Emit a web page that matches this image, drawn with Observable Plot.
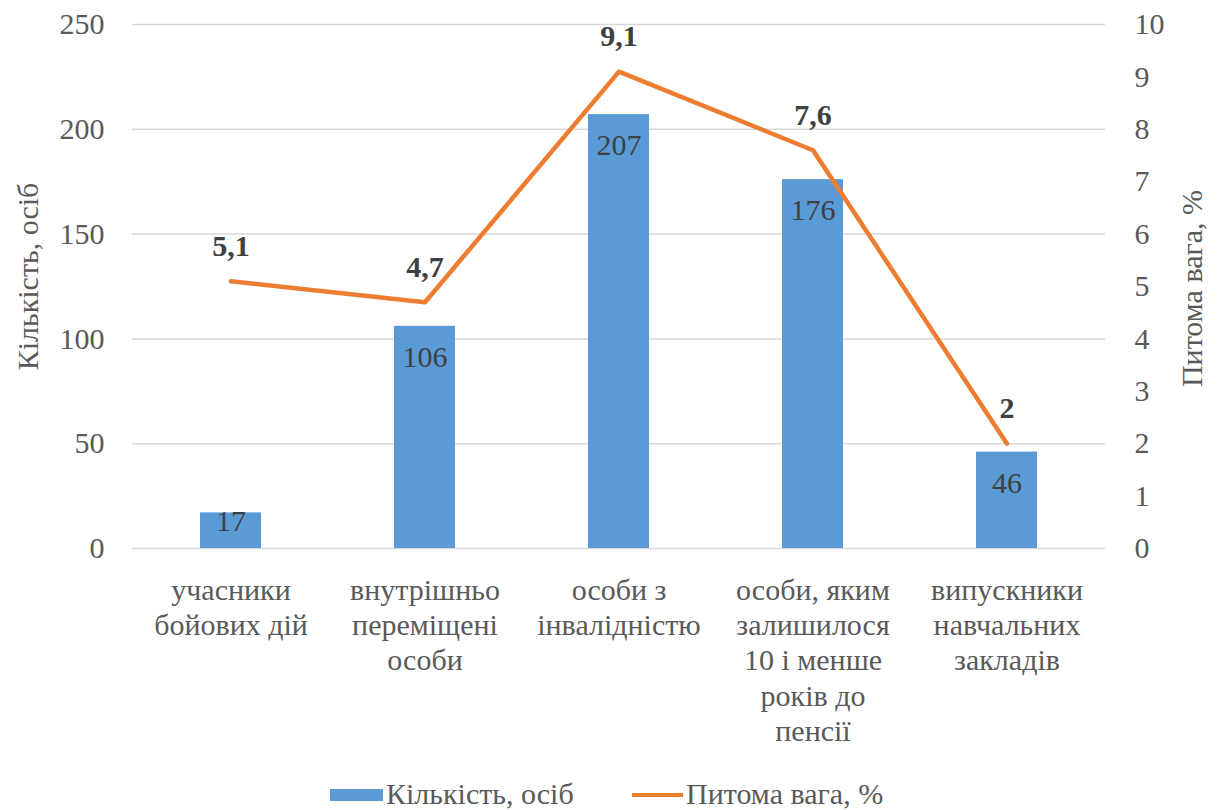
<!DOCTYPE html>
<html>
<head>
<meta charset="utf-8">
<script src="https://cdn.jsdelivr.net/npm/d3@7"></script>
<script src="https://cdn.jsdelivr.net/npm/@observablehq/plot@0.6"></script>
<style>
  body { margin: 0; background: #fff; font-family: 'Liberation Serif', serif; }
  #wrap { position: relative; width: 1218px; height: 810px; overflow: hidden; }
  #legend { position: absolute; left: 0; top: 770px; width: 1218px; height: 40px; color: #595959; font-size: 30px; }
  #legend .sw { position: absolute; }
  #legend .lb { position: absolute; top: 7px; line-height: 34px; white-space: nowrap; }
</style>
</head>
<body>
<div id="wrap">
  <div id="chart"></div>
  <div id="legend"></div>
</div>
<script>
// ---- data ----
const categories = [
  "учасники бойових дій",
  "внутрішньо переміщені особи",
  "особи з інвалідністю",
  "особи, яким залишилося 10 і менше років до пенсії",
  "випускники навчальних закладів"
];
const xLabels = [
  "учасники\nбойових дій",
  "внутрішньо\nпереміщені\nособи",
  "особи з\nінвалідністю",
  "особи, яким\nзалишилося\n10 і менше\nроків до\nпенсії",
  "випускники\nнавчальних\nзакладів"
];
const counts = [17, 106, 207, 176, 46];
const shares = [5.1, 4.7, 9.1, 7.6, 2];
const leftTicks = [0, 50, 100, 150, 200, 250];
const rightTicks = [0, 1, 2, 3, 4, 5, 6, 7, 8, 9, 10];
const seriesNames = ["Кількість, осіб", "Питома вага, %"];
const leftTitle = "Кількість, осіб";
const rightTitle = "Питома вага, %";

// ---- build ----
const FONT = "Liberation Serif";
const leftMax = leftTicks[leftTicks.length - 1];
const rightMax = rightTicks[rightTicks.length - 1];
const ratio = leftMax / rightMax;
const rows = categories.map((c, i) => ({category: c, count: counts[i], share: shares[i]}));
const fmt = v => String(v).replace(".", ",");
const BLUE = "#5B9BD5", ORANGE = "#ED7D31", TXT = "#595959", DARK = "#404040";

const chart = Plot.plot({
  width: 1218,
  height: 770,
  marginLeft: 132,
  marginRight: 113,
  marginTop: 24,
  marginBottom: 222,
  style: {fontFamily: FONT, fontSize: "30px", color: TXT, background: "#fff"},
  x: {type: "band", domain: categories, paddingInner: 0.687, paddingOuter: 0.3435, axis: null},
  y: {domain: [0, leftMax], axis: null},
  marks: [
    Plot.gridY(leftTicks, {stroke: "#d9d9d9", strokeOpacity: 1, strokeWidth: 1.5}),
    Plot.barY(rows, {x: "category", y: "count", fill: BLUE}),
    Plot.line(rows, {x: "category", y: d => d.share * ratio, stroke: ORANGE, strokeWidth: 4.5, strokeLinejoin: "round", strokeLinecap: "round"}),
    Plot.text(rows.filter(d => d.count >= 40), {x: "category", y: "count", text: d => String(d.count), dy: 31, fill: DARK, fontSize: 30, fontFamily: FONT}),
    Plot.text(rows.filter(d => d.count < 40), {x: "category", y: "count", text: d => String(d.count), dy: 9, fill: DARK, fontSize: 30, fontFamily: FONT}),
    Plot.text(rows, {x: "category", y: d => d.share * ratio, text: d => fmt(d.share), dy: -35, fill: DARK, fontSize: 30, fontWeight: "bold", fontFamily: FONT}),
    Plot.axisY(leftTicks, {anchor: "left", tickSize: 0, tickPadding: 28, label: null, fontSize: 30, fontFamily: FONT, fill: TXT}),
    Plot.axisY(rightTicks.map(t => t * ratio), {anchor: "right", tickSize: 0, tickPadding: 29, label: null, fontSize: 30, fontFamily: FONT, fill: TXT, tickFormat: d => String(Math.round(d / ratio))}),
    Plot.axisX({anchor: "bottom", tickSize: 0, tickPadding: 26, label: null, fontSize: 30, fontFamily: FONT, fill: TXT, lineHeight: 1.18, tickFormat: d => xLabels[categories.indexOf(d)]}),
    Plot.text([leftTitle], {text: d => d, frameAnchor: "left", textAnchor: "middle", rotate: -90, dx: -104, dy: -10, fontSize: 30, fontFamily: FONT, fill: TXT}),
    Plot.text([rightTitle], {text: d => d, frameAnchor: "right", textAnchor: "middle", rotate: -90, dx: 87, dy: 2, fontSize: 30, fontFamily: FONT, fill: TXT})
  ]
});
document.getElementById("chart").appendChild(chart);

// ---- legend (HTML, below the SVG) ----
const legend = document.getElementById("legend");
legend.innerHTML = `
  <div class="sw" style="left:330px; top:19px; width:53px; height:12px; background:${BLUE}"></div>
  <div class="lb" style="left:386px">${seriesNames[0]}</div>
  <div class="sw" style="left:632px; top:23px; width:51px; height:4px; background:${ORANGE}"></div>
  <div class="lb" style="left:686px">${seriesNames[1]}</div>
`;
</script>
</body>
</html>
